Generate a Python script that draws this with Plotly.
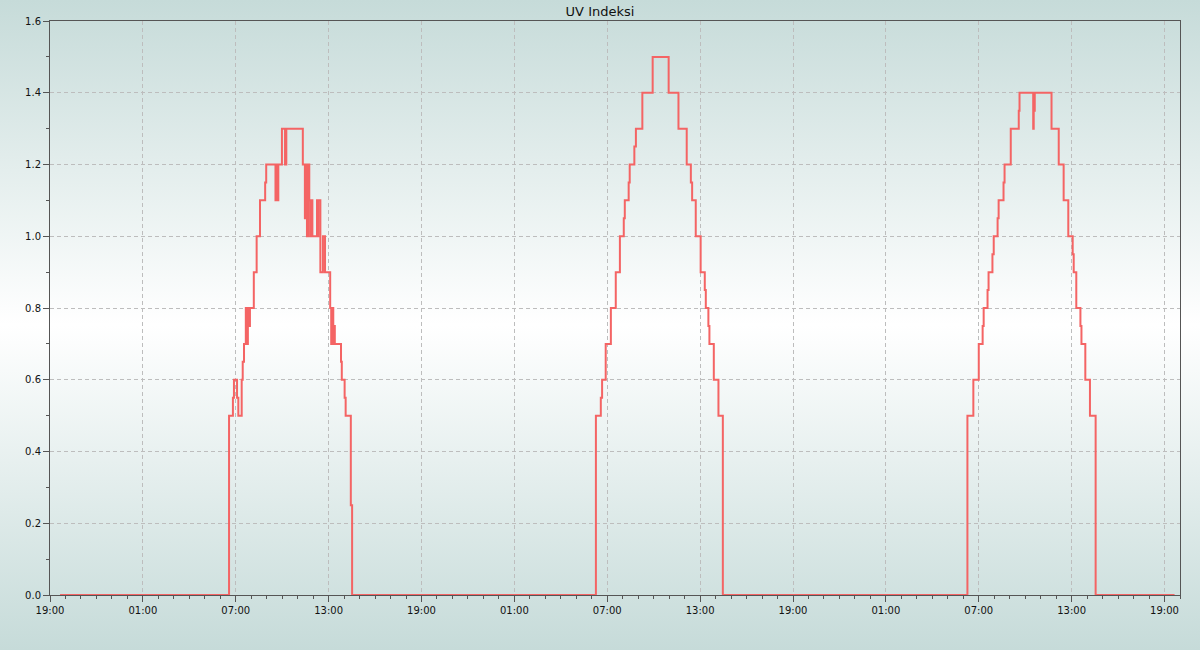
"""UV index step chart over three days."""

import base64

import plotly.graph_objects as go

# --- data -----------------------------------------------------------------
start_time = "2024-06-10 19:39"
end_time = "2024-06-13 19:39"

day1_times = [
    "06:34", "06:49", "06:53", "07:05", "07:10", "07:23", "07:27", "07:32",
    "07:39", "07:43", "07:47", "07:51", "07:55", "08:10", "08:21", "08:34",
    "08:54", "08:58", "09:34", "09:38", "09:41", "09:45", "09:59", "10:11",
    "10:16", "11:20", "11:28", "11:32", "11:36", "11:41", "11:45", "11:49",
    "11:53", "11:57", "12:15", "12:18", "12:20", "12:28", "12:38", "12:46",
    "13:06", "13:10", "13:14", "13:18", "13:20", "13:24", "13:48", "13:51",
    "14:02", "14:06", "14:26", "14:31",
]
day1_uv = [
    0.5, 0.55, 0.6, 0.55, 0.5, 0.6, 0.65, 0.7,
    0.8, 0.7, 0.8, 0.75, 0.8, 0.9, 1.0, 1.1,
    1.15, 1.2, 1.1, 1.2, 1.1, 1.2, 1.3, 1.2,
    1.3, 1.2, 1.05, 1.2, 1.0, 1.2, 1.1, 1.0,
    1.1, 1.0, 1.1, 1.0, 1.1, 0.9, 1.0, 0.9,
    0.8, 0.7, 0.8, 0.7, 0.75, 0.7, 0.65, 0.6,
    0.55, 0.5, 0.25, 0.0,
]

day2_times = [
    "06:16", "06:35", "06:40", "06:54", "07:14", "07:33", "07:49", "08:04",
    "08:08", "08:23", "08:27", "08:45", "08:51", "09:16", "09:56", "10:58",
    "11:36", "12:08", "12:24", "12:29", "12:43", "13:02", "13:18", "13:22",
    "13:32", "13:36", "13:53", "14:11", "14:28",
]
day2_uv = [
    0.5, 0.55, 0.6, 0.7, 0.8, 0.9, 1.0, 1.05,
    1.1, 1.15, 1.2, 1.25, 1.3, 1.4, 1.5, 1.4,
    1.3, 1.2, 1.15, 1.1, 1.0, 0.9, 0.85, 0.8,
    0.75, 0.7, 0.6, 0.5, 0.0,
]

day3_times = [
    "06:16", "06:39", "07:00", "07:15", "07:19", "07:34", "07:38", "07:53",
    "07:58", "08:13", "08:17", "08:36", "08:40", "09:04", "09:35", "09:38",
    "10:31", "10:33", "10:37", "11:42", "12:10", "12:29", "12:47", "13:04",
    "13:08", "13:18", "13:34", "13:38", "13:53", "14:11", "14:33",
]
day3_uv = [
    0.5, 0.6, 0.7, 0.75, 0.8, 0.85, 0.9, 0.95,
    1.0, 1.05, 1.1, 1.15, 1.2, 1.3, 1.35, 1.4,
    1.3, 1.35, 1.4, 1.3, 1.2, 1.1, 1.0, 0.95,
    0.9, 0.8, 0.75, 0.7, 0.6, 0.5, 0.0,
]

day_dates = ["2024-06-11", "2024-06-12", "2024-06-13"]

x_range = ["2024-06-10 19:00", "2024-06-13 20:00"]

# --- build series ---------------------------------------------------------
times = [start_time]
uv = [0.0]
for date, t_list, v_list in zip(
    day_dates, [day1_times, day2_times, day3_times], [day1_uv, day2_uv, day3_uv]
):
    times += [f"{date} {t}" for t in t_list]
    uv += v_list
times.append(end_time)
uv.append(0.0)

# background gradient (teal -> white -> teal) as an svg image
svg = (
    '<svg xmlns="http://www.w3.org/2000/svg" width="1200" height="650" '
    'preserveAspectRatio="none">'
    '<defs><linearGradient id="g" x1="0" y1="0" x2="0" y2="1">'
    '<stop offset="0" stop-color="#c6dbd9"/>'
    '<stop offset="0.5" stop-color="#ffffff"/>'
    '<stop offset="1" stop-color="#c6dbd9"/>'
    "</linearGradient></defs>"
    '<rect width="1200" height="650" fill="url(#g)"/></svg>'
)
bg_src = "data:image/svg+xml;base64," + base64.b64encode(svg.encode()).decode()

W, H = 1200, 650
ML, MR, MT, MB = 50, 20, 21, 55
pw, ph = W - ML - MR, H - MT - MB

fig = go.Figure()
fig.add_trace(
    go.Scatter(
        x=times,
        y=uv,
        mode="lines",
        line=dict(color="#f46464", width=2, shape="hv"),
        hoverinfo="x+y",
        showlegend=False,
    )
)

axis_common = dict(
    showline=True,
    linecolor="#555555",
    linewidth=1,
    mirror=True,
    gridcolor="#bdbdbd",
    griddash="4px,3px",
    gridwidth=1,
    ticks="outside",
    ticklen=6,
    tickcolor="#555555",
    zeroline=False,
    tickfont=dict(family="DejaVu Sans", size=10, color="#111111"),
)

fig.update_layout(
    width=W,
    height=H,
    margin=dict(l=ML, r=MR, t=MT, b=MB),
    paper_bgcolor="#c6dbd9",
    plot_bgcolor="rgba(0,0,0,0)",
    title=dict(
        text="UV Indeksi",
        x=0.5,
        xanchor="center",
        y=1 - 11 / H,
        yanchor="middle",
        font=dict(family="DejaVu Sans", size=13, color="#111111"),
    ),
    xaxis=dict(
        axis_common,
        type="date",
        range=x_range,
        tick0="2024-06-10 19:00",
        dtick=6 * 3600 * 1000,
        tickformat="%H:%M",
        minor=dict(dtick=3600 * 1000, ticks="outside", ticklen=3,
                   tickcolor="#555555", showgrid=False),
    ),
    yaxis=dict(
        axis_common,
        range=[0, 1.6],
        dtick=0.2,
        tickformat=".1f",
        minor=dict(dtick=0.1, ticks="outside", ticklen=3,
                   tickcolor="#555555", showgrid=False),
    ),
    images=[
        dict(
            source=bg_src,
            xref="paper",
            yref="paper",
            x=-ML / pw,
            y=1 + MT / ph,
            sizex=W / pw,
            sizey=H / ph,
            sizing="stretch",
            xanchor="left",
            yanchor="top",
            layer="below",
        )
    ],
)

# drop the browser's default body margin so the figure sits at 0,0
fig.write_html(
    "out.html",
    config={"displayModeBar": False},
    post_script="document.body.style.margin='0';",
)
